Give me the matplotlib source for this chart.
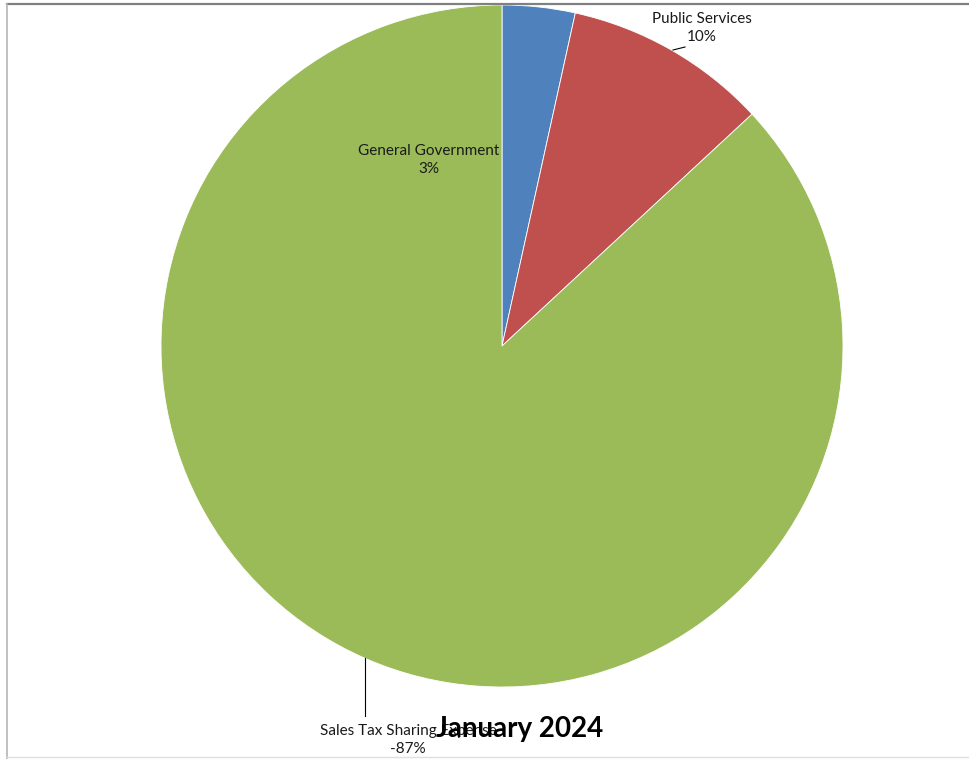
import matplotlib
matplotlib.use("Agg")
import matplotlib.pyplot as plt
from matplotlib.lines import Line2D

categories = ["General Government", "Public Services", "Sales Tax Sharing Expense"]
values = [3.45, 9.65, -86.9]
colors = ["#4F81BD", "#C0504D", "#9BBB59"]
title = "January 2024"

W, H = 970, 759
fig = plt.figure(figsize=(W / 100, H / 100), dpi=100)
plt.rcParams['font.family'] = ['Lato', 'DejaVu Sans']

cx, cy, r = 502, 346, 341
ax = fig.add_axes([(cx - r) / W, (H - cy - r) / H, 2 * r / W, 2 * r / H])
ax.axis('off')

sizes = [abs(v) for v in values]
total = sum(sizes)
ax.pie(sizes, colors=colors, startangle=90, counterclock=False, radius=1,
       wedgeprops=dict(edgecolor='white', linewidth=0.6))
ax.set_aspect('auto')
ax.set_xlim(-1, 1)
ax.set_ylim(-1, 1)

def d(px, py):
    return ((px - cx) / r, (cy - py) / r)

pcts = [round(v / total * 100) for v in values]
label_pos = [d(429, 160), d(702, 28), d(408, 740)]
for cat, p, pos in zip(categories, pcts, label_pos):
    ax.text(pos[0], pos[1], f"{cat}\n{p}%", ha='center', va='center',
            fontsize=11, linespacing=1.45, color='#1a1a1a', clip_on=False)

# leader lines
x1, y1 = d(673, 50)
x2, y2 = d(685, 47)
ax.plot([x1, x2], [y1, y2], color='black', lw=0.8, clip_on=False)
x1, y1 = d(365, 658)
x2, y2 = d(365, 716)
ax.plot([x1, x2], [y1, y2], color='black', lw=0.8, clip_on=False)

fig.text(520 / W, 1 - 729 / H, title, ha='center', va='center',
         fontsize=20, fontweight='bold', color='black')

# frame lines
fig.add_artist(Line2D([7 / W, 1], [1 - 4 / H, 1 - 4 / H], color='#808080', lw=1.6, transform=fig.transFigure))
fig.add_artist(Line2D([7 / W, 7 / W], [0, 1 - 4 / H], color='#b5b5b5', lw=1.2, transform=fig.transFigure))
fig.add_artist(Line2D([7 / W, 1], [1 - 757 / H, 1 - 757 / H], color='#e0e0e0', lw=1.0, transform=fig.transFigure))

fig.savefig("out.png", dpi=100, facecolor='white')
